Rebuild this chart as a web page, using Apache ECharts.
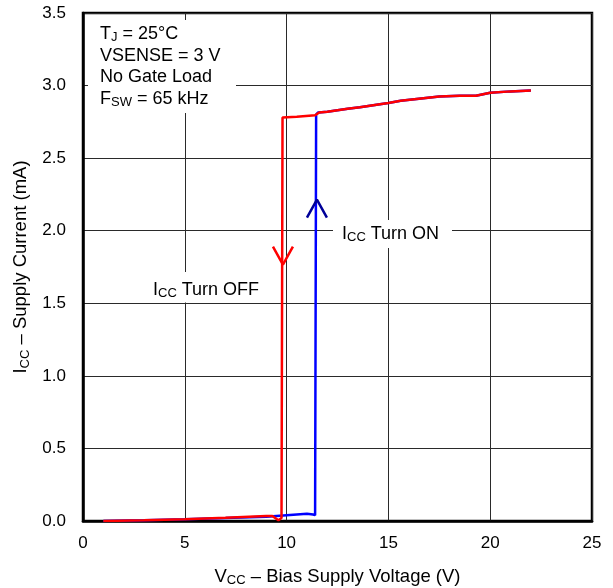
<!DOCTYPE html>
<html><head><meta charset="utf-8">
<script src="https://cdn.jsdelivr.net/npm/echarts@6/dist/echarts.min.js"></script>
<style>html,body{margin:0;padding:0;background:#fff}#c{width:613px;height:588px}</style>
</head><body><div id="c"></div>
<script>
// Turn-ON sweep (increasing VCC), blue
const onV = [1, 3, 5, 7, 9, 10, 11, 11.3, 11.4, 11.45, 11.55, 12, 12.5, 13, 13.6, 14.5, 15, 15.6, 16.5, 17.5, 18.5, 19.3, 20, 21, 22];
const onI = [0, 0.005, 0.012, 0.02, 0.03, 0.04, 0.05, 0.045, 0.04, 2.80, 2.815, 2.82, 2.83, 2.84, 2.85, 2.87, 2.88, 2.895, 2.91, 2.925, 2.93, 2.93, 2.95, 2.96, 2.966];
// Turn-OFF sweep (decreasing VCC), red
const offV = [22, 21, 20, 19.3, 18.5, 17.5, 16.5, 15.6, 15, 14.5, 13.6, 13, 12.5, 12, 11.6, 11.4, 10.5, 9.8, 9.75, 9.6, 9.3, 9, 7, 5, 3, 1];
const offI = [2.966, 2.96, 2.95, 2.93, 2.93, 2.925, 2.91, 2.895, 2.88, 2.87, 2.85, 2.84, 2.83, 2.82, 2.815, 2.795, 2.785, 2.78, 0.02, 0.005, 0.035, 0.035, 0.022, 0.012, 0.005, 0];
// direction chevrons
const offArrowV = [9.33, 9.82, 10.31];
const offArrowI = [1.89, 1.766, 1.89];
const onArrowV = [11.0, 11.49, 11.98];
const onArrowI = [2.09, 2.214, 2.09];
const xTicks = [0, 5, 10, 15, 20, 25];
const yTicks = [0, 0.5, 1.0, 1.5, 2.0, 2.5, 3.0, 3.5];

const zip = (a, b) => a.map((v, i) => [v, b[i]]);
const FONT = 'Arial, "Liberation Sans", sans-serif';
const sub = {fontSize: 13, fontFamily: FONT, color: '#000', padding: [8, 0, 0, 0]};
const base = {fontSize: 18.5, fontFamily: FONT, color: '#000'};
const ann = {fontSize: 18, fontFamily: FONT, color: '#000'};
const annSub = {fontSize: 13, fontFamily: FONT, color: '#000', padding: [7, 0, 0, 0]};

const chart = echarts.init(document.getElementById('c'), null, {renderer: 'canvas'});
chart.setOption({
  animation: false,
  grid: {left: 83, right: 21, top: 13, bottom: 67, containLabel: false, outerBoundsMode: 'none',
         show: true, borderColor: '#000', borderWidth: 2.5, backgroundColor: 'transparent'},
  xAxis: {
    type: 'value', min: xTicks[0], max: xTicks[xTicks.length - 1], interval: 5,
    axisLine: {show: true, lineStyle: {color: '#000', width: 2.5}},
    axisTick: {show: false},
    axisLabel: {color: '#000', fontSize: 17, fontFamily: FONT, margin: 14},
    splitLine: {show: true, lineStyle: {color: '#2a2a2a', width: 1}},
    name: '{b|V}{s|CC}{b| – Bias Supply Voltage (V)}', nameLocation: 'middle', nameGap: 45,
    nameTextStyle: {rich: {b: base, s: sub}}
  },
  yAxis: {
    type: 'value', min: yTicks[0], max: yTicks[yTicks.length - 1], interval: 0.5,
    axisLine: {show: true, lineStyle: {color: '#000', width: 2.5}},
    axisTick: {show: false},
    axisLabel: {color: '#000', fontSize: 17, fontFamily: FONT, margin: 17, formatter: v => v.toFixed(1)},
    splitLine: {show: true, lineStyle: {color: '#2a2a2a', width: 1}},
    name: '{b|I}{s|CC}{b| – Supply Current (mA)}', nameLocation: 'middle', nameGap: 46,
    nameTextStyle: {rich: {b: base, s: sub}}
  },
  series: [
    {type: 'line', data: zip(onV, onI), showSymbol: false, lineStyle: {color: '#0000ff', width: 2.5}, z: 3},
    {type: 'line', data: zip(offV, offI), showSymbol: false, lineStyle: {color: '#ff0000', width: 2.5}, z: 4},
    {type: 'line', data: zip(offArrowV, offArrowI), showSymbol: false, lineStyle: {color: '#ff0000', width: 2.5}, z: 5},
    {type: 'line', data: zip(onArrowV, onArrowI), showSymbol: false, lineStyle: {color: '#000099', width: 2.5}, z: 5}
  ],
  graphic: [
    {type: 'rect', left: 88, top: 20, shape: {width: 148, height: 93}, style: {fill: '#fff'}, z: 50},
    {type: 'text', left: 100, top: 24, z: 51, style: {
      text: '{b|T}{s|J}{b| = 25°C}\n{b|VSENSE = 3 V}\n{b|No Gate Load}\n{b|F}{s|SW}{b| = 65 kHz}',
      rich: {b: Object.assign({lineHeight: 21.7}, ann), s: Object.assign({lineHeight: 21.7}, annSub)}
    }},
    {type: 'rect', left: 333, top: 220, shape: {width: 119, height: 28}, style: {fill: '#fff'}, z: 50},
    {type: 'text', left: 342, top: 225, z: 51, style: {
      text: '{b|I}{s|CC}{b| Turn ON}', rich: {b: ann, s: annSub}
    }},
    {type: 'rect', left: 142, top: 272, shape: {width: 130, height: 30.5}, style: {fill: '#fff'}, z: 50},
    {type: 'text', left: 153, top: 281, z: 51, style: {
      text: '{b|I}{s|CC}{b| Turn OFF}', rich: {b: ann, s: annSub}
    }}
  ]
});
</script></body></html>
